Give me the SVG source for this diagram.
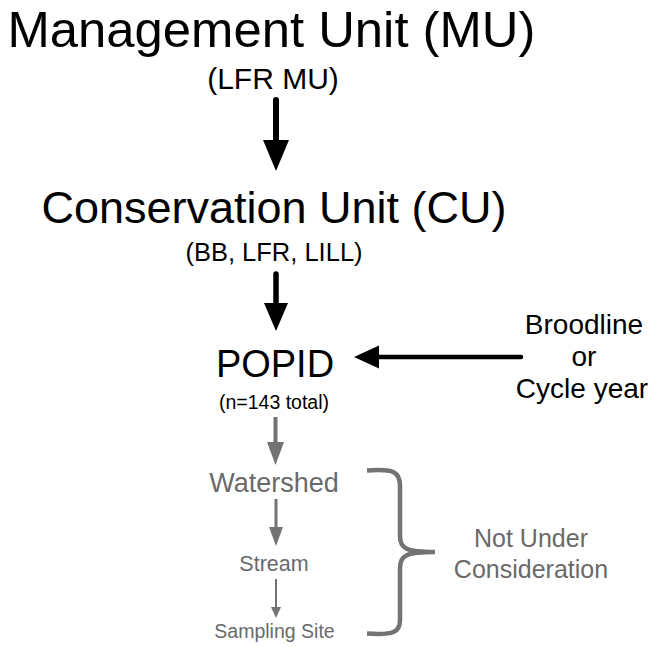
<svg xmlns="http://www.w3.org/2000/svg" width="654" height="647" viewBox="0 0 654 647">
<defs>
<style>
text{font-family:"Liberation Sans",Arial,Helvetica,sans-serif;text-anchor:middle}
.k{fill:#000}
.g{fill:#6a6a6a}
.sk{stroke:#000;fill:none}
.sg{stroke:#737373;fill:none}
.hk{fill:#000}
.hg{fill:#737373}
</style>
</defs>
<rect width="654" height="647" fill="#fff"/>
<g id="mu">
<text class="k" x="271.5" y="47" font-size="50.8">Management Unit (MU)</text>
<text class="k" x="273" y="89" font-size="30">(LFR MU)</text>
</g>
<g id="cu">
<text class="k" x="274" y="223" font-size="45">Conservation Unit (CU)</text>
<text class="k" x="274" y="261" font-size="25.5">(BB, LFR, LILL)</text>
</g>
<g id="popid">
<text class="k" x="275" y="377" font-size="38">POPID</text>
<text class="k" x="274" y="409" font-size="19.5">(n=143 total)</text>
</g>
<g id="broodline">
<text class="k" x="584" y="334" font-size="28">Broodline</text>
<text class="k" x="584" y="366" font-size="28">or</text>
<text class="k" x="582" y="398" font-size="28">Cycle year</text>
</g>
<g id="watershed">
<text class="g" x="274" y="492" font-size="27">Watershed</text>
</g>
<g id="stream">
<text class="g" x="274" y="571" font-size="21.5">Stream</text>
</g>
<g id="site">
<text class="g" x="274.5" y="638" font-size="19.5">Sampling Site</text>
</g>
<g id="note">
<path class="sg" stroke="#808080" stroke-width="4.5" d="M367,470.5 C394,468.5 400,472 400,486 L400,536 C400,548 405,552 435,552 M435,552 C405,552 400,556 400,568 L400,620 C400,632 394,635.5 367,633.5"/>
<text class="g" x="531" y="547" font-size="25">Not Under</text>
<text class="g" x="531" y="578" font-size="25">Consideration</text>
</g>
<g id="connectors">
<line class="sk" x1="276" y1="100" x2="276" y2="142" stroke-width="6" stroke-linecap="round"/>
<polygon class="hk" points="263,140 289,140 276,171"/>
<line class="sk" x1="276" y1="274" x2="276" y2="305" stroke-width="5.5" stroke-linecap="round"/>
<polygon class="hk" points="264,303 288,303 276,331"/>
<line class="sk" x1="378" y1="357" x2="521" y2="357" stroke-width="4.5" stroke-linecap="round"/>
<polygon class="hk" points="354,357 379,345.5 379,368.5"/>
<line class="sg" x1="275.5" y1="417" x2="275.5" y2="444" stroke-width="4"/>
<polygon class="hg" points="267,442 284,442 275.5,465"/>
<line class="sg" x1="276" y1="499" x2="276" y2="528" stroke-width="3"/>
<polygon class="hg" points="269,527 283,527 276,546"/>
<line class="sg" x1="276" y1="579" x2="276" y2="608" stroke-width="2"/>
<polygon class="hg" points="271,607 281,607 276,618"/>
</g>
</svg>
